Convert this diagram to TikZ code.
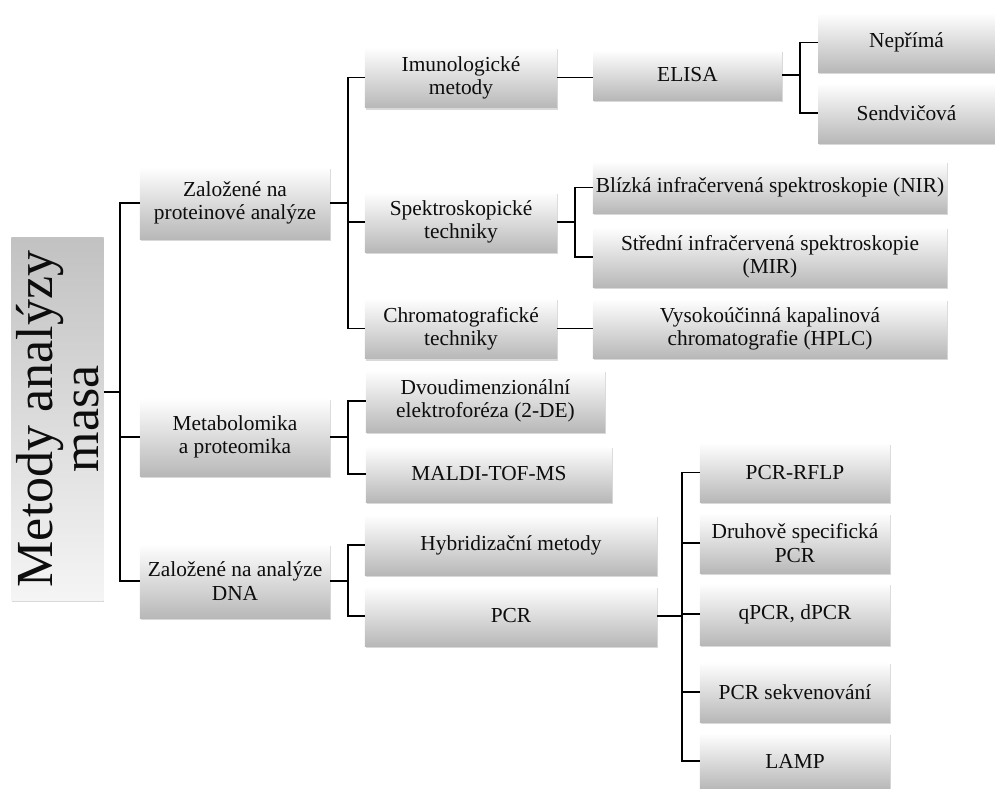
\documentclass[tikz,border=0pt]{standalone}
\usepackage{fontspec}
\setmainfont{Liberation Serif}
\usetikzlibrary{shadows}

\begin{document}
\begin{tikzpicture}[x=0.025cm, y=-0.025cm,
	box/.style={rectangle, inner sep=1pt, align=center, text=black!95,
		top color=white, bottom color=black!28,
		drop shadow={shadow xshift=0.5pt, shadow yshift=-1.3pt, opacity=0.3},
		font=\fontsize{15.2}{16.5}\selectfont},
	rootbox/.style={box, inner sep=0pt, top color=black!24, bottom color=black!4,
		font=\fontsize{37}{33}\selectfont},
	link/.style={black, line width=0.9pt}]
	\useasboundingbox (0,0) rectangle (995,789);
	% \draw[help lines, step=50] (0,0) grid (995,789);

	% root
	\node[rootbox, rotate=90, minimum width=9.05cm, minimum height=2.3cm] (root) at (57.5,419) {Metody analýzy\\masa};

	% level 1
	\node[box, minimum width=4.75cm, minimum height=1.8cm] (prot) at (235,203) {Založené na\\proteinové analýze};
	\node[box, minimum width=4.75cm, minimum height=1.95cm] (metab) at (235,437) {Metabolomika\\a proteomika};
	\node[box, minimum width=4.75cm, minimum height=1.85cm] (dna) at (235,581) {Založené na analýze\\DNA};

	% level 2
	\node[box, minimum width=4.8cm, minimum height=1.52cm] (imuno) at (461,77.5) {Imunologické\\metody};
	\node[box, minimum width=4.8cm, minimum height=1.5cm] (spektro) at (461,222) {Spektroskopické\\techniky};
	\node[box, minimum width=4.8cm, minimum height=1.52cm] (chroma) at (461,328.5) {Chromatografické\\techniky};
	\node[box, minimum width=5.98cm, minimum height=1.55cm] (dvou) at (485.5,401) {Dvoudimenzionální\\elektroforéza (2-DE)};
	\node[box, minimum width=6.15cm, minimum height=1.4cm] (maldi) at (489,474) {MALDI-TOF-MS};
	\node[box, minimum width=7.3cm, minimum height=1.5cm] (hybr) at (511,545) {Hybridizační metody};
	\node[box, minimum width=7.3cm, minimum height=1.5cm] (pcr) at (511,616) {PCR};

	% level 3
	\node[box, minimum width=4.72cm, minimum height=1.25cm] (elisa) at (687.5,75) {ELISA};
	\node[box, minimum width=8.85cm, minimum height=1.3cm] (nir) at (770,187.5) {Blízká infračervená spektroskopie (NIR)};
	\node[box, minimum width=8.85cm, minimum height=1.5cm] (mir) at (770,257) {Střední infračervená spektroskopie\\(MIR)};
	\node[box, minimum width=8.85cm, minimum height=1.48cm] (hplc) at (770,328.5) {Vysokoúčinná kapalinová\\chromatografie (HPLC)};
	\node[box, minimum width=4.75cm, minimum height=1.48cm] (rflp) at (795,472.5) {PCR-RFLP};
	\node[box, minimum width=4.75cm, minimum height=1.5cm] (druh) at (795,543) {Druhově specifická\\PCR};
	\node[box, minimum width=4.75cm, minimum height=1.55cm] (qpcr) at (795,614) {qPCR, dPCR};
	\node[box, minimum width=4.75cm, minimum height=1.5cm] (sekv) at (795,692) {PCR sekvenování};
	\node[box, minimum width=4.75cm, minimum height=1.4cm] (lamp) at (795,761) {LAMP};

	% level 4
	\node[box, minimum width=4.42cm, minimum height=1.48cm] (nepr) at (906.5,42.5) {Nepřímá};
	\node[box, minimum width=4.42cm, minimum height=1.5cm] (sendv) at (906.5,113) {Sendvičová};

	% spines
	\coordinate (s1) at (120,0);
	\coordinate (s2) at (348,0);
	\coordinate (s3) at (800,0);
	\coordinate (s4) at (575,0);
	\coordinate (s5) at (682,0);
	\path (prot.west) -- (dna.west) coordinate[midway] (m1);

	% root -> level 1
	\draw[link] (root.south |- m1) -- (m1 -| s1);
	\draw[link] (prot.west) -- (prot.west -| s1) -- (dna.west -| s1) -- (dna.west);
	\draw[link] (metab.west) -- (metab.west -| s1);

	% proteinova analyza
	\draw[link] (prot.east) -- (prot.east -| s2);
	\draw[link] (imuno.west) -- (imuno.west -| s2) -- (chroma.west -| s2) -- (chroma.west);
	\draw[link] (spektro.west) -- (spektro.west -| s2);

	% metabolomika
	\draw[link] (metab.east) -- (metab.east -| s2);
	\draw[link] (dvou.west) -- (dvou.west -| s2) -- (maldi.west -| s2) -- (maldi.west);

	% DNA
	\draw[link] (dna.east) -- (dna.east -| s2);
	\draw[link] (hybr.west) -- (hybr.west -| s2) -- (pcr.west -| s2) -- (pcr.west);

	% imunologicke, chromatograficke
	\draw[link] (imuno.east) -- (imuno.east -| elisa.west);
	\draw[link] (chroma.east) -- (chroma.east -| hplc.west);

	% ELISA
	\draw[link] (elisa.east) -- (elisa.east -| s3);
	\draw[link] (nepr.west) -- (nepr.west -| s3) -- (sendv.west -| s3) -- (sendv.west);

	% spektroskopicke
	\draw[link] (spektro.east) -- (spektro.east -| s4);
	\draw[link] (nir.west) -- (nir.west -| s4) -- (mir.west -| s4) -- (mir.west);

	% PCR
	\draw[link] (pcr.east) -- (pcr.east -| s5);
	\draw[link] (rflp.west) -- (rflp.west -| s5) -- (lamp.west -| s5) -- (lamp.west);
	\draw[link] (druh.west) -- (druh.west -| s5);
	\draw[link] (qpcr.west) -- (qpcr.west -| s5);
	\draw[link] (sekv.west) -- (sekv.west -| s5);
\end{tikzpicture}
\end{document}
